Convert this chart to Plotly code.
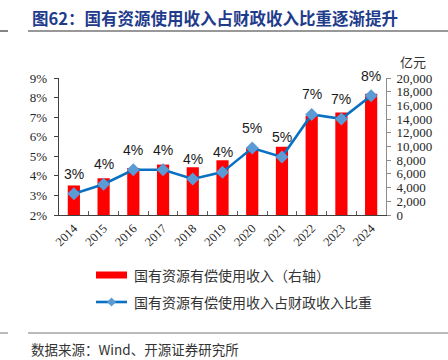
import plotly.graph_objects as go

PCT = chr(37)

years = ["2014", "2015", "2016", "2017", "2018", "2019", "2020", "2021", "2022", "2023", "2024"]
income = [4310, 5370, 6870, 7360, 6970, 7990, 9830, 9980, 14480, 14960, 17710]  # 亿元
share = [3.09, 3.57, 4.31, 4.31, 3.84, 4.19, 5.42, 4.96, 7.14, 6.91, 8.09]     # percent
share_labels = [3, 4, 4, 4, 4, 4, 5, 5, 7, 7, 8]
left_ticks = [2, 3, 4, 5, 6, 7, 8, 9]
right_ticks = list(range(0, 20001, 2000))

W, H = 448, 360
L, R, T, B = 59, 386, 78, 215

def px(x):
    return (x - L) / (R - L)

def py(y):
    return (B - y) / (B - T)

SERIF = "Liberation Serif, Times New Roman, serif"
CJK = "Noto Sans CJK SC, sans-serif"

fig = go.Figure()
fig.add_trace(go.Bar(x=years, y=income, yaxis="y", marker=dict(color="#FF0000", line=dict(width=0)),
                     width=0.41, name="国有资源有偿使用收入（右轴）", showlegend=False, hoverinfo="skip"))
fig.add_trace(go.Scatter(x=years, y=share, yaxis="y2", mode="lines+markers",
                         line=dict(color="#0A70C2", width=2.6),
                         marker=dict(symbol="diamond", size=10, color="#5B9BD5", line=dict(width=0)),
                         name="国有资源有偿使用收入占财政收入比重", showlegend=False, hoverinfo="skip"))

annotations = []
for i, (v, lab) in enumerate(zip(share, share_labels)):
    annotations.append(dict(x=i, y=v, xref="x", yref="y2", text=str(lab) + PCT, showarrow=False,
                            yshift=20, xanchor="center", yanchor="middle",
                            font=dict(family="Liberation Sans, Arial, sans-serif", size=14, color="#1a1a1a")))

# title
annotations.append(dict(x=px(30), y=py(18), xref="paper", yref="paper", xanchor="left", yanchor="middle",
                        text="<b>图62：国有资源使用收入占财政收入比重逐渐提升</b>", showarrow=False,
                        font=dict(family=CJK, size=16.5, color="#1F3C8C")))
# unit
annotations.append(dict(x=px(398), y=py(62), xref="paper", yref="paper", xanchor="left", yanchor="middle",
                        text="亿元", showarrow=False, font=dict(family=CJK, size=13, color="#333333")))
# legend texts
annotations.append(dict(x=px(132), y=py(275), xref="paper", yref="paper", xanchor="left", yanchor="middle",
                        text="国有资源有偿使用收入（右轴）", showarrow=False,
                        font=dict(family=CJK, size=14, color="#333333")))
annotations.append(dict(x=px(132), y=py(302), xref="paper", yref="paper", xanchor="left", yanchor="middle",
                        text="国有资源有偿使用收入占财政收入比重", showarrow=False,
                        font=dict(family=CJK, size=14, color="#333333")))
# source
annotations.append(dict(x=px(29), y=py(349), xref="paper", yref="paper", xanchor="left", yanchor="middle",
                        text="数据来源：Wind、开源证券研究所", showarrow=False,
                        font=dict(family=CJK, size=13.5, color="#333333")))

shapes = [
    dict(type="line", xref="paper", yref="paper", x0=px(28), x1=px(448), y0=py(31), y1=py(31),
         line=dict(color="#333333", width=1.2)),
    dict(type="line", xref="paper", yref="paper", x0=px(0), x1=px(8), y0=py(31), y1=py(31),
         line=dict(color="#333333", width=1.2)),
    dict(type="line", xref="paper", yref="paper", x0=px(28), x1=px(448), y0=py(333), y1=py(333),
         line=dict(color="#777777", width=1)),
    dict(type="line", xref="paper", yref="paper", x0=px(0), x1=px(8), y0=py(333), y1=py(333),
         line=dict(color="#777777", width=1)),
    dict(type="rect", xref="paper", yref="paper", x0=px(96), x1=px(127), y0=py(278.5), y1=py(271.5),
         fillcolor="#FF0000", line=dict(width=0)),
    dict(type="line", xref="paper", yref="paper", x0=px(96), x1=px(127), y0=py(302), y1=py(302),
         line=dict(color="#0A70C2", width=2.6)),
    dict(type="path", xref="paper", yref="paper",
         path=f"M {px(111.5)},{py(297.5)} L {px(116)},{py(302)} L {px(111.5)},{py(306.5)} L {px(107)},{py(302)} Z",
         fillcolor="#5B9BD5", line=dict(width=0)),
]

fig.update_layout(
    width=W, height=H,
    margin=dict(l=L, r=W - R, t=T, b=H - B, pad=0),
    paper_bgcolor="white", plot_bgcolor="white",
    showlegend=False,
    hovermode=False,
    xaxis=dict(type="category", range=[-0.5, 10.5], tickangle=-45, tickson="boundaries",
               ticks="inside", ticklen=4, tickcolor="#595959", showline=True, linecolor="#404040", linewidth=1.2,
               showgrid=False, tickfont=dict(family=SERIF, size=12.5, color="#262626")),
    yaxis=dict(side="right", range=[0, 20000], tickvals=right_ticks, tickformat=",", showgrid=False,
               zeroline=False, showline=True, linecolor="#8C8C8C", linewidth=1, ticks="outside", ticklen=4,
               tickcolor="#8C8C8C", ticklabelstandoff=3, tickfont=dict(family=SERIF, size=13, color="#262626")),
    yaxis2=dict(overlaying="y", side="left", range=[2, 9], tickvals=left_ticks,
                ticktext=[str(v) + PCT for v in left_ticks],
                showgrid=False, zeroline=False, showline=True, linecolor="#404040", linewidth=1.2,
                ticks="outside", ticklen=4, tickcolor="#404040", ticklabelstandoff=4,
                tickfont=dict(family=SERIF, size=13, color="#262626")),
    annotations=annotations,
    shapes=shapes,
)

fig.write_html("out.html", config={"displayModeBar": False, "staticPlot": True},
               post_script="document.body.style.margin='0';")
